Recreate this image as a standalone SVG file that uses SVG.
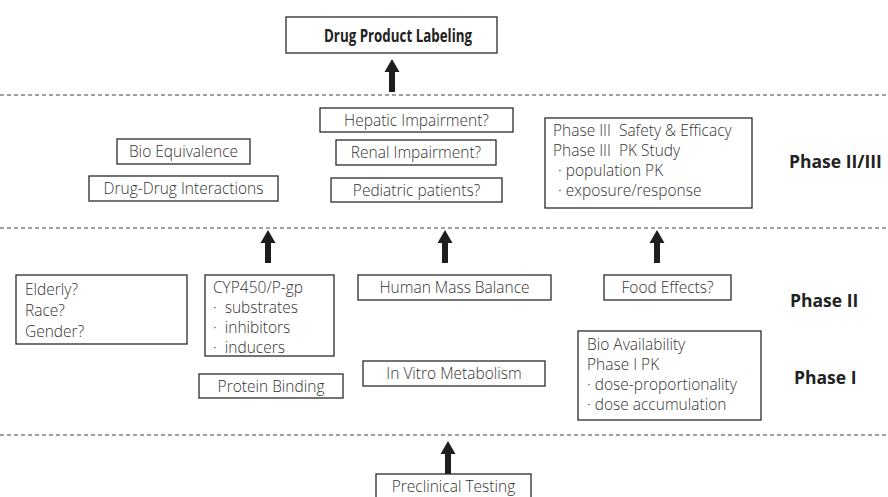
<svg xmlns="http://www.w3.org/2000/svg" width="888" height="497" viewBox="0 0 888 497">
<defs>
<style>
.box{fill:#fff;stroke:#2a2a2a;stroke-width:1.3}
.t{font-family:"Open Sans","Liberation Sans",sans-serif;font-size:15.5px;font-weight:300;fill:#333}
.c{text-anchor:middle}
.b{font-family:"Open Sans","Liberation Sans",sans-serif;font-size:17.5px;font-weight:bold;fill:#222}
.dash{stroke:#444;stroke-width:1.2;stroke-dasharray:4 3;fill:none}
.arr{fill:#1e1e1e}
</style>
<path id="up" d="M-3,0 V-20 H-7.5 L0,-33 L7.5,-20 H3 V0 Z"/>
</defs>
<rect width="888" height="497" fill="#fff"/>
<g id="connectors">
<line class="dash" x1="0" y1="95" x2="888" y2="95"/>
<line class="dash" x1="0" y1="228" x2="888" y2="228"/>
<line class="dash" x1="0" y1="435" x2="888" y2="435"/>
<use href="#up" class="arr" x="392" y="92"/>
<use href="#up" class="arr" x="268" y="263"/>
<use href="#up" class="arr" x="445" y="263"/>
<use href="#up" class="arr" x="657" y="263"/>
<use href="#up" class="arr" x="448" y="474"/>
</g>
<g id="labeling"><rect class="box" x="286" y="17" width="211" height="36"/><text class="b c" x="398" y="42" style="font-size:17px" textLength="148" lengthAdjust="spacingAndGlyphs">Drug Product Labeling</text></g>
<g id="bioeq"><rect class="box" x="117" y="139" width="133" height="25"/><text class="t c" x="183.5" y="157">Bio Equivalence</text></g>
<g id="ddi"><rect class="box" x="89" y="176" width="189" height="25"/><text class="t c" x="183.5" y="194">Drug-Drug Interactions</text></g>
<g id="hepatic"><rect class="box" x="320" y="108" width="193" height="24"/><text class="t c" x="416.5" y="125.5">Hepatic Impairment?</text></g>
<g id="renal"><rect class="box" x="336" y="140" width="160" height="25"/><text class="t c" x="416" y="158">Renal Impairment?</text></g>
<g id="pediatric"><rect class="box" x="331" y="178" width="171" height="24"/><text class="t c" x="416.5" y="195.5">Pediatric patients?</text></g>
<g id="phase3"><rect class="box" x="545" y="118" width="207" height="90"/>
<text class="t" x="553" y="136" xml:space="preserve">Phase III  Safety &amp; Efficacy</text>
<text class="t" x="553" y="156" xml:space="preserve">Phase III  PK Study</text>
<text class="t" x="558" y="176">· population PK</text>
<text class="t" x="558" y="196">· exposure/response</text></g>
<g id="lbl-p23"><text class="b" x="789" y="168">Phase II/III</text></g>
<g id="elderly"><rect class="box" x="16" y="275" width="171" height="69"/>
<text class="t" x="25" y="295">Elderly?</text>
<text class="t" x="25" y="316">Race?</text>
<text class="t" x="25" y="337">Gender?</text></g>
<g id="cyp"><rect class="box" x="205" y="275" width="129" height="81"/>
<text class="t" x="213" y="293">CYP450/P-gp</text>
<text class="t" x="213" y="313" xml:space="preserve">·  substrates</text>
<text class="t" x="213" y="333" xml:space="preserve">·  inhibitors</text>
<text class="t" x="213" y="353" xml:space="preserve">·  inducers</text></g>
<g id="massbal"><rect class="box" x="358" y="275" width="193" height="25"/><text class="t c" x="454.5" y="293">Human Mass Balance</text></g>
<g id="food"><rect class="box" x="604" y="275" width="127" height="25"/><text class="t c" x="667.5" y="293">Food Effects?</text></g>
<g id="lbl-p2"><text class="b" x="790" y="307">Phase II</text></g>
<g id="protein"><rect class="box" x="199" y="374" width="144" height="24"/><text class="t c" x="271" y="391.5">Protein Binding</text></g>
<g id="invitro"><rect class="box" x="363" y="361" width="182" height="25"/><text class="t c" x="454" y="379">In Vitro Metabolism</text></g>
<g id="bioavail"><rect class="box" x="578" y="331" width="183" height="89"/>
<text class="t" x="587" y="350">Bio Availability</text>
<text class="t" x="587" y="370">Phase I PK</text>
<text class="t" x="587" y="390">· dose-proportionality</text>
<text class="t" x="587" y="410">· dose accumulation</text></g>
<g id="lbl-p1"><text class="b" x="794" y="384">Phase I</text></g>
<g id="preclinical"><rect class="box" x="376" y="474" width="155" height="30"/><text class="t c" x="453.5" y="492">Preclinical Testing</text></g>
</svg>
